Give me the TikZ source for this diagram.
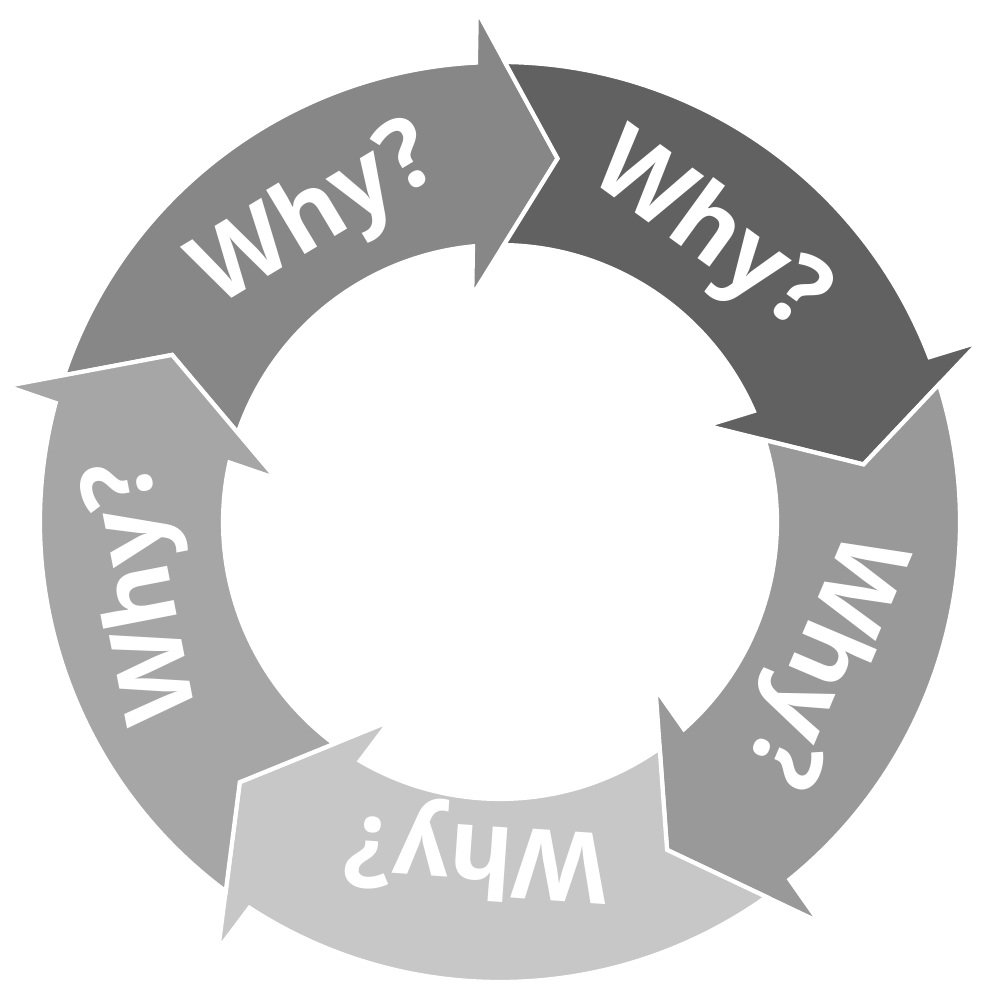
\documentclass[tikz,border=0pt]{standalone}
\usepackage{fontspec}
\setmainfont{Open Sans}
\usepackage{tikz}

\begin{document}
\begin{tikzpicture}[every node/.style={font=\fontsize{28}{28}\selectfont\bfseries},
    arrowband/.style={draw=white, line width=1.2pt, line join=miter}]
  \useasboundingbox (-5.00,-4.63) rectangle (4.82,5.22);
  % tip angle / tip of the arrow before / fill / text angle / text radius
  \foreach \t/\p/\col/\a/\r [count=\i] in {81/153/black!47/121/3.55, 9/81/black!62/54/3.55, -63/9/black!40/-23/3.48, -135/-63/black!22/-94/3.3, -207/-135/black!35/-169/3.6}{
    \pgfmathsetmacro\so{\p+8.4}
    \pgfmathsetmacro\eo{\t+12.0}
    \pgfmathsetmacro\si{\t+14.6}
    \pgfmathsetmacro\ei{\p+8.2}
    \fill[arrowband, fill=\col] (\so:4.6) arc[start angle=\so, end angle=\eo, radius=4.6]
      -- (\t+11.6:5.12) -- (\t:3.68) -- (\t+16:2.28) -- (\si:2.77)
      arc[start angle=\si, end angle=\ei, radius=2.77] -- (\p:3.68) -- cycle;
    \node[text=white, rotate=\a-90, inner sep=0pt] (why\i) at (\a:\r) {Why?};
  }
\end{tikzpicture}
\end{document}
